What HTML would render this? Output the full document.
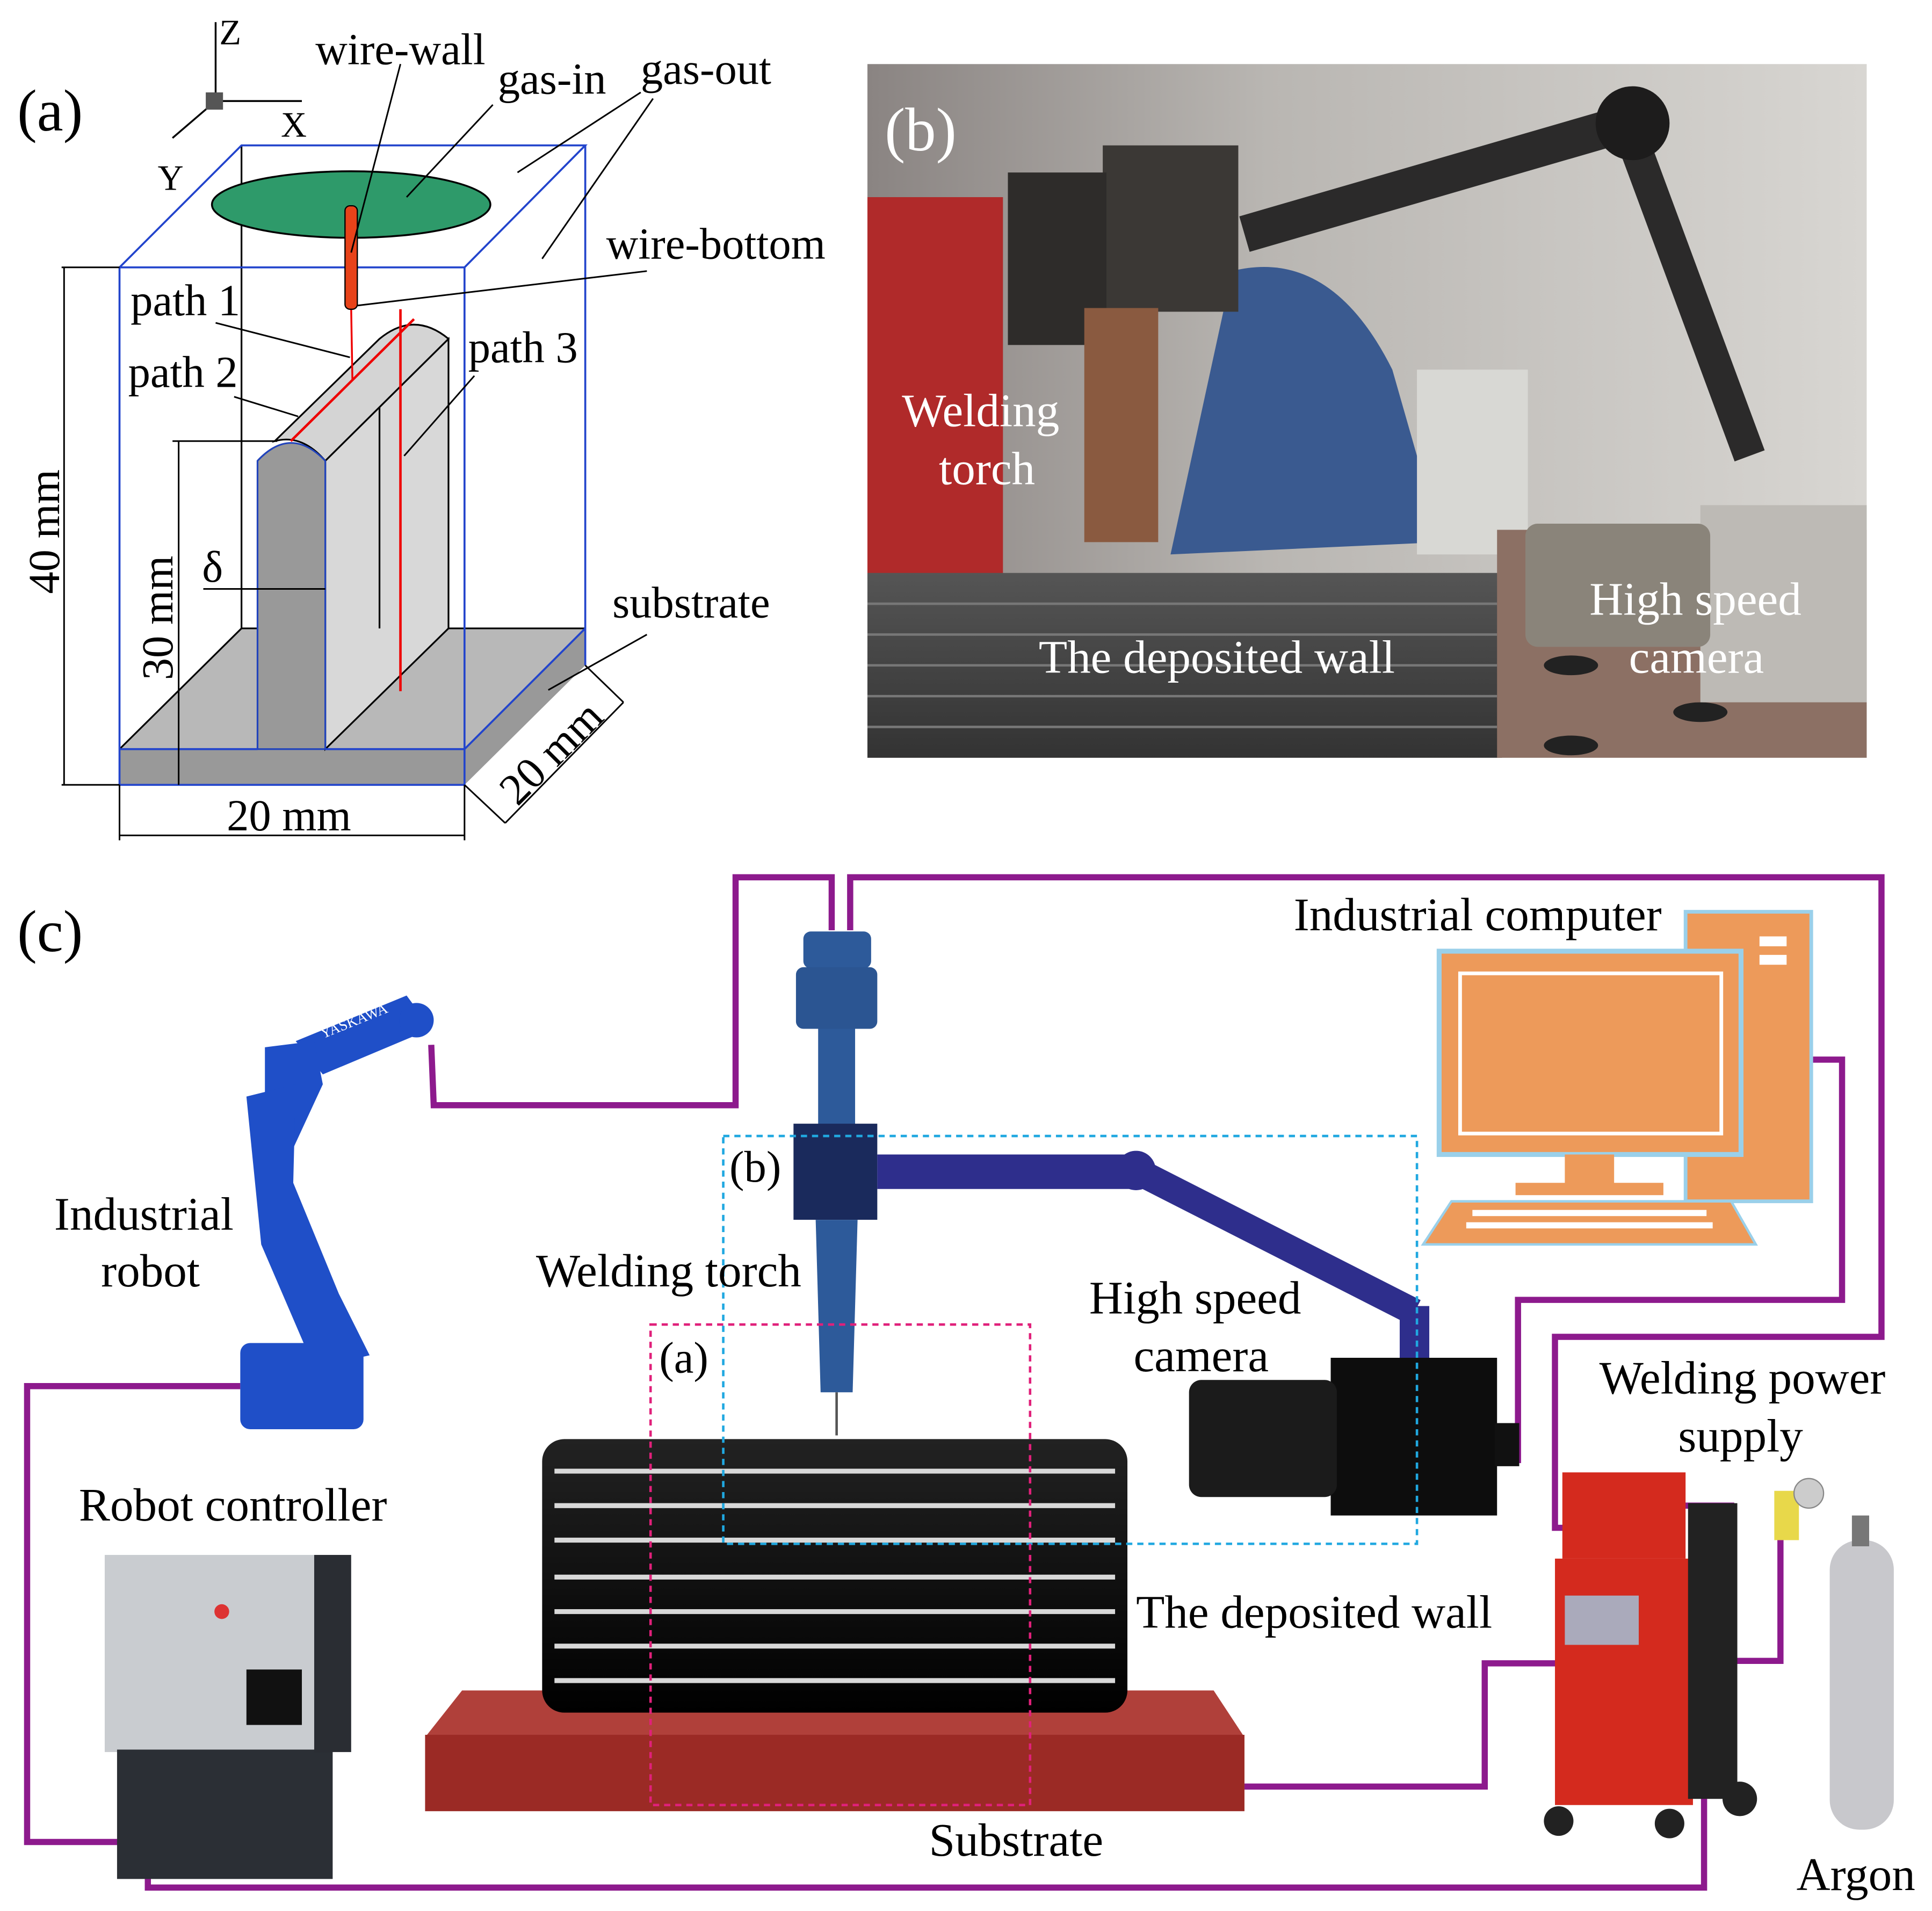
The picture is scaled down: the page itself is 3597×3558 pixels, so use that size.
<!DOCTYPE html>
<html><head><meta charset="utf-8"><style>
html,body{margin:0;padding:0;background:#fff}
svg{display:block}
text{font-family:"Liberation Serif",serif}
</style></head><body>
<svg width="3597" height="3558" viewBox="0 0 1568 1551" preserveAspectRatio="none" xmlns="http://www.w3.org/2000/svg">
<rect width="1568" height="1551" fill="#fff"/>
<!-- ===== Panel (a) ===== -->
<text x="14" y="106" font-size="48">(a)</text>
<g stroke="#000" stroke-width="1.5" fill="none">
<line x1="175" y1="82" x2="175" y2="18"/><line x1="175" y1="82" x2="245" y2="82"/><line x1="175" y1="82" x2="140" y2="112"/>
</g>
<rect x="167" y="75" width="14" height="14" fill="#555"/>
<text x="178" y="36" font-size="29">Z</text><text x="228" y="111" font-size="29">X</text><text x="128" y="154" font-size="29">Y</text>
<!-- substrate -->
<polygon points="97,608 377,608 475,510 196,510" fill="#b8b8b8"/>
<polygon points="97,608 377,608 377,637 97,637" fill="#999"/>
<polygon points="377,608 475,510 475,540 377,637" fill="#999"/>
<g stroke="#000" stroke-width="1.4" fill="none">
<line x1="97" y1="608" x2="196" y2="510"/>
<line x1="209" y1="608" x2="308" y2="510"/>
<line x1="196" y1="510" x2="308" y2="510"/>
<line x1="364" y1="510" x2="475" y2="510"/>
<line x1="196" y1="118" x2="196" y2="510"/>
</g>
<!-- wall side faces -->
<polygon points="264,374 308,330 308,510 264,608" fill="#d6d6d6"/>
<polygon points="308,275 364,275 364,510 308,510" fill="#dcdcdc"/>
<polygon points="264,374 364,275 364,510 264,608" fill="#d8d8d8" stroke="#000" stroke-width="1.4"/>
<line x1="308" y1="275" x2="308" y2="510" stroke="#000" stroke-width="1.4"/>
<!-- top strip -->
<path d="M223,358 L308,275 Q336,252 364,275 L264,374 Q245,352 223,358 Z" fill="#d4d4d4" stroke="#000" stroke-width="1.4"/>
<!-- front face -->
<path d="M209,608 L209,374 Q236,345 264,374 L264,608 Z" fill="#999" stroke="#2244bb" stroke-width="1.4"/>
<line x1="236" y1="358" x2="336" y2="259" stroke="#e00" stroke-width="2"/>
<line x1="325" y1="251" x2="325" y2="561" stroke="#e00" stroke-width="2"/>
<line x1="285" y1="250" x2="286" y2="308" stroke="#e00" stroke-width="1.5"/>
<!-- box -->
<g stroke="#2244cc" stroke-width="1.6" fill="none">
<line x1="97" y1="217" x2="97" y2="637"/><line x1="377" y1="217" x2="377" y2="637"/>
<line x1="97" y1="217" x2="377" y2="217"/><line x1="97" y1="608" x2="209" y2="608"/><line x1="264" y1="608" x2="377" y2="608"/>
<line x1="97" y1="637" x2="377" y2="637"/>
<polyline points="97,217 196,118 475,118 377,217"/>
<line x1="475" y1="118" x2="475" y2="540"/>
<line x1="377" y1="608" x2="475" y2="510"/>
</g>
<ellipse cx="285" cy="166" rx="113" ry="27" fill="#2e9a6a" stroke="#000" stroke-width="1.5"/>
<rect x="280" y="167" width="10" height="84" rx="4" fill="#e8431a" stroke="#000"/>
<g stroke="#000" stroke-width="1.3" fill="none">
<line x1="325" y1="52" x2="285" y2="205"/>
<line x1="400" y1="85" x2="330" y2="160"/>
<line x1="520" y1="75" x2="420" y2="140"/>
<line x1="530" y1="80" x2="440" y2="210"/>
<line x1="525" y1="220" x2="290" y2="248"/>
<line x1="175" y1="262" x2="284" y2="290"/>
<line x1="190" y1="322" x2="242" y2="338"/>
<line x1="385" y1="305" x2="328" y2="370"/>
<line x1="525" y1="515" x2="445" y2="560"/>
<line x1="50" y1="217" x2="97" y2="217"/><line x1="50" y1="637" x2="97" y2="637"/>
<line x1="52" y1="217" x2="52" y2="637"/>
<line x1="140" y1="358" x2="225" y2="358"/><line x1="145" y1="358" x2="145" y2="637"/>
<line x1="165" y1="478" x2="264" y2="478"/>
<line x1="97" y1="637" x2="97" y2="682"/><line x1="377" y1="637" x2="377" y2="682"/>
<line x1="97" y1="678" x2="377" y2="678"/>
<line x1="377" y1="637" x2="410" y2="668"/><line x1="475" y1="540" x2="506" y2="570"/>
<line x1="410" y1="668" x2="506" y2="570"/>
</g>
<text x="256" y="52" font-size="36">wire-wall</text>
<text x="404" y="76" font-size="36">gas-in</text>
<text x="520" y="68" font-size="36">gas-out</text>
<text x="492" y="210" font-size="36">wire-bottom</text>
<text x="106" y="256" font-size="36">path 1</text>
<text x="104" y="314" font-size="36">path 2</text>
<text x="380" y="294" font-size="36">path 3</text>
<text x="164" y="472" font-size="36">δ</text>
<text x="497" y="501" font-size="36">substrate</text>
<text x="184" y="674" font-size="36">20 mm</text>
<text transform="translate(48,482) rotate(-90)" font-size="36">40 mm</text>
<text transform="translate(140,552) rotate(-90)" font-size="36">30 mm</text>
<text transform="translate(420,655) rotate(-45)" font-size="36">20 mm</text>

<!-- ===== Panel (b) photo ===== -->
<defs>
<linearGradient id="bg" x1="0" y1="0" x2="1" y2="0"><stop offset="0" stop-color="#8a8482"/><stop offset="0.4" stop-color="#b9b6b2"/><stop offset="1" stop-color="#d8d6d2"/></linearGradient>
<linearGradient id="wallb" x1="0" y1="0" x2="0" y2="1"><stop offset="0" stop-color="#555"/><stop offset="1" stop-color="#333"/></linearGradient>
<linearGradient id="depw" x1="0" y1="0" x2="0" y2="1"><stop offset="0" stop-color="#222"/><stop offset="0.5" stop-color="#111"/><stop offset="1" stop-color="#000"/></linearGradient>
</defs>
<rect x="704" y="52" width="811" height="563" fill="url(#bg)"/>
<rect x="704" y="160" width="110" height="310" fill="#b02a2a"/>
<path d="M1000,220 Q1080,200 1130,300 L1170,440 L950,450 Z" fill="#3a5a90"/>
<rect x="1150" y="300" width="90" height="150" fill="#d8d8d4"/>
<rect x="704" y="465" width="515" height="150" fill="url(#wallb)"/>
<g stroke="#777" stroke-width="2">
<line x1="704" y1="490" x2="1215" y2="490"/><line x1="704" y1="515" x2="1215" y2="515"/><line x1="704" y1="540" x2="1215" y2="540"/><line x1="704" y1="565" x2="1215" y2="565"/><line x1="704" y1="590" x2="1215" y2="590"/>
</g>
<rect x="1215" y="430" width="300" height="185" fill="#8c7064"/>
<ellipse cx="1275" cy="540" rx="22" ry="8" fill="#222"/><ellipse cx="1380" cy="578" rx="22" ry="8" fill="#222"/><ellipse cx="1275" cy="605" rx="22" ry="8" fill="#222"/>
<rect x="895" y="118" width="110" height="135" fill="#3b3835"/>
<rect x="818" y="140" width="80" height="140" fill="#2e2c2a"/>
<rect x="880" y="250" width="60" height="190" fill="#8a5a40"/>
<line x1="1010" y1="190" x2="1320" y2="100" stroke="#2b2a2a" stroke-width="30"/>
<line x1="1320" y1="100" x2="1420" y2="370" stroke="#2b2a2a" stroke-width="26"/>
<circle cx="1325" cy="100" r="30" fill="#1d1c1c"/>
<rect x="1380" y="410" width="135" height="160" fill="#bdbab5"/>
<rect x="1238" y="425" width="150" height="100" rx="10" fill="#8a847a"/>
<text x="718" y="122" font-size="50" fill="#fff">(b)</text>
<text x="732" y="346" font-size="38" fill="#fff">Welding</text>
<text x="762" y="393" font-size="38" fill="#fff">torch</text>
<text x="843" y="546" font-size="38" fill="#fff">The deposited wall</text>
<text x="1290" y="499" font-size="38" fill="#fff">High speed</text>
<text x="1322" y="546" font-size="38" fill="#fff">camera</text>

<!-- ===== Panel (c) ===== -->
<text x="14" y="772" font-size="48">(c)</text>
<g stroke="#8d1a8d" stroke-width="5" fill="none">
<polyline points="350,848 352,897 597,897 597,712 675,712 675,755"/>
<polyline points="690,755 690,712 1527,712 1527,1085 1262,1085 1262,1240 1280,1240"/>
<polyline points="1470,860 1495,860 1495,1055 1232,1055 1232,1185 1215,1185"/>
<polyline points="195,1125 22,1125 22,1495 120,1495 120,1532 1383,1532 1383,1430"/>
<polyline points="1010,1450 1205,1450 1205,1350 1270,1350"/>
<polyline points="1365,1222 1405,1222 1405,1348 1445,1348 1445,1240"/>
</g>
<!-- robot -->
<g fill="#1f4fc8">
<path d="M240,845 L330,808 L350,835 L262,872 Z"/>
<path d="M215,850 L255,845 L262,880 L225,960 L215,1000 Z"/>
<path d="M200,890 L240,880 L238,960 L275,1050 L300,1100 L255,1110 L212,1010 Z"/>
<rect x="195" y="1090" width="100" height="70" rx="8"/>
<circle cx="338" cy="828" r="14"/>
</g>
<text x="262" y="843" font-size="12" fill="#fff" transform="rotate(-22 262 843)">YASKAWA</text>
<text x="44" y="998" font-size="38">Industrial</text>
<text x="82" y="1044" font-size="38">robot</text>
<!-- robot controller -->
<rect x="85" y="1262" width="195" height="160" fill="#c9ccd0"/>
<rect x="95" y="1420" width="175" height="105" fill="#2b2f35"/>
<rect x="255" y="1262" width="30" height="160" fill="#2a2d33"/>
<rect x="200" y="1355" width="45" height="45" fill="#111"/>
<circle cx="180" cy="1308" r="6" fill="#d33"/>
<text x="64" y="1234" font-size="38">Robot controller</text>
<!-- substrate & wall -->
<polygon points="345,1410 375,1372 985,1372 1010,1410" fill="#b0403a"/>
<rect x="345" y="1408" width="665" height="62" fill="#9b2a25"/>
<rect x="440" y="1168" width="475" height="222" rx="18" fill="url(#depw)"/>
<g stroke="#d8d8d8" stroke-width="4">
<line x1="450" y1="1194" x2="905" y2="1194"/><line x1="450" y1="1222" x2="905" y2="1222"/><line x1="450" y1="1250" x2="905" y2="1250"/><line x1="450" y1="1280" x2="905" y2="1280"/><line x1="450" y1="1308" x2="905" y2="1308"/><line x1="450" y1="1336" x2="905" y2="1336"/><line x1="450" y1="1364" x2="905" y2="1364"/>
</g>
<!-- torch -->
<rect x="652" y="756" width="55" height="30" rx="6" fill="#2d5a9a"/>
<rect x="646" y="785" width="66" height="50" rx="6" fill="#2b5592"/>
<rect x="664" y="835" width="30" height="80" fill="#2d5a9a"/>
<rect x="644" y="912" width="68" height="78" fill="#1a2a5c"/>
<polygon points="662,990 696,990 692,1130 666,1130" fill="#2d5a9a"/>
<line x1="679" y1="1130" x2="679" y2="1165" stroke="#555" stroke-width="2"/>
<rect x="712" y="937" width="210" height="28" fill="#2e2e8c"/>
<circle cx="922" cy="950" r="16" fill="#2e2e8c"/>
<line x1="922" y1="950" x2="1148" y2="1065" stroke="#2e2e8c" stroke-width="22"/>
<rect x="1136" y="1060" width="24" height="50" fill="#2e2e8c"/>
<rect x="1080" y="1102" width="135" height="128" fill="#0d0d0d"/>
<rect x="965" y="1120" width="120" height="95" rx="10" fill="#1b1b1b"/>
<rect x="1213" y="1155" width="20" height="35" fill="#111"/>
<rect x="587" y="922" width="563" height="331" fill="none" stroke="#20a8e0" stroke-width="2" stroke-dasharray="5,4"/>
<rect x="528" y="1075" width="308" height="390" fill="none" stroke="#e0207a" stroke-width="2" stroke-dasharray="5,4"/>
<text x="592" y="959" font-size="36">(b)</text>
<text x="535" y="1114" font-size="36">(a)</text>
<text x="435" y="1044" font-size="38">Welding torch</text>
<text x="884" y="1066" font-size="38">High speed</text>
<text x="920" y="1113" font-size="38">camera</text>
<text x="922" y="1321" font-size="38">The deposited wall</text>
<text x="754" y="1506" font-size="38">Substrate</text>
<!-- computer -->
<rect x="1368" y="740" width="102" height="235" fill="#ed9a5a" stroke="#9ad0ea" stroke-width="3"/>
<rect x="1428" y="760" width="22" height="8" fill="#fff"/><rect x="1428" y="775" width="22" height="8" fill="#fff"/>
<rect x="1168" y="772" width="245" height="165" fill="#ed9a5a" stroke="#9ad0ea" stroke-width="4"/>
<rect x="1185" y="790" width="212" height="130" fill="none" stroke="#fff" stroke-width="3"/>
<rect x="1270" y="937" width="40" height="25" fill="#ed9a5a"/>
<rect x="1230" y="960" width="120" height="10" fill="#ed9a5a"/>
<polygon points="1178,975 1405,975 1425,1010 1155,1010" fill="#ed9a5a" stroke="#9ad0ea" stroke-width="2"/>
<g fill="#fff"><rect x="1195" y="982" width="190" height="5"/><rect x="1190" y="992" width="200" height="5"/></g>
<text x="1050" y="755" font-size="38">Industrial computer</text>
<!-- power supply -->
<rect x="1268" y="1195" width="100" height="70" fill="#d42a1e"/>
<rect x="1262" y="1265" width="112" height="200" fill="#d42a1e"/>
<rect x="1270" y="1295" width="60" height="40" fill="#aab"/>
<rect x="1370" y="1220" width="40" height="240" fill="#222"/>
<circle cx="1265" cy="1478" r="12" fill="#222"/><circle cx="1355" cy="1480" r="12" fill="#222"/><circle cx="1412" cy="1460" r="14" fill="#222"/>
<text x="1298" y="1131" font-size="38">Welding power</text>
<text x="1362" y="1178" font-size="38">supply</text>
<rect x="1440" y="1210" width="20" height="40" fill="#e8d84a"/>
<circle cx="1468" cy="1212" r="12" fill="#ccc" stroke="#888"/>
<rect x="1485" y="1250" width="52" height="235" rx="24" fill="#c8c8cc"/>
<rect x="1503" y="1230" width="14" height="25" fill="#777"/>
<text x="1458" y="1534" font-size="38">Argon</text>
</svg>
</body></html>
